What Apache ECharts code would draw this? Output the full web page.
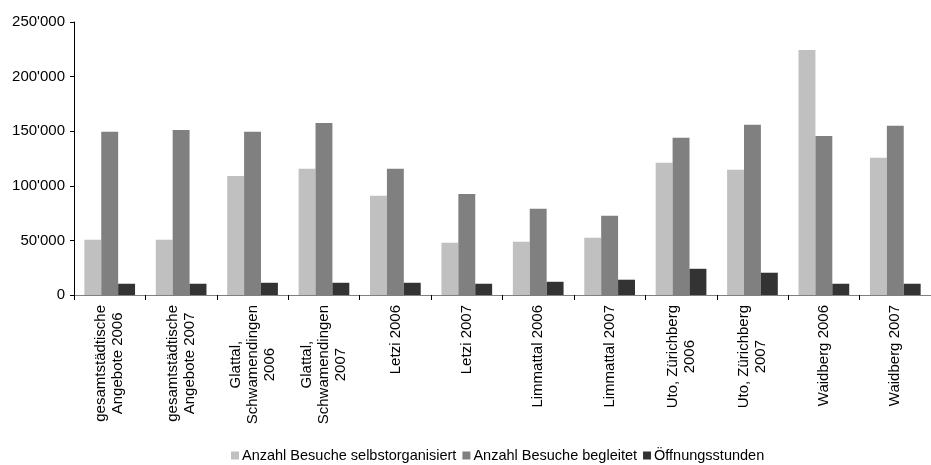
<!DOCTYPE html>
<html>
<head>
<meta charset="utf-8">
<script src="https://cdn.jsdelivr.net/npm/echarts@6/dist/echarts.min.js"></script>
<style>
  html, body { margin: 0; padding: 0; background: #fff; }
  #chart { width: 931px; height: 465px; }
</style>
</head>
<body>
<div id="chart"></div>
<script>
// Locations and years (line breaks as shown under the axis)
const categories = [
  'gesamtstädtische\nAngebote 2006',
  'gesamtstädtische\nAngebote 2007',
  'Glattal,\nSchwamendingen\n2006',
  'Glattal,\nSchwamendingen\n2007',
  'Letzi 2006',
  'Letzi 2007',
  'Limmattal 2006',
  'Limmattal 2007',
  'Uto, Zürichberg\n2006',
  'Uto, Zürichberg\n2007',
  'Waidberg 2006',
  'Waidberg 2007'
];

const seriesNames = [
  'Anzahl Besuche selbstorganisiert',
  'Anzahl Besuche begleitet',
  'Öffnungsstunden'
];

const selbstorganisiert = [50500, 50500, 109000, 115500, 90800, 47800, 48700, 52400, 121000, 114600, 224400, 125600];
const begleitet = [149400, 151200, 149400, 157600, 115500, 92600, 78900, 72500, 143900, 155800, 145700, 154900];
const oeffnungsstunden = [10300, 10300, 11200, 11200, 11200, 10300, 12100, 14000, 24000, 20400, 10300, 10300];

const yTicks = { min: 0, max: 250000, interval: 50000 };

const colors = ['#c0c0c0', '#808080', '#333333'];
const fontFamily = '"Liberation Sans", Arial, sans-serif';
const labelFontSize = 15;

// 250000 -> 250'000
function swissNumber(v) {
  return String(v).replace(/\B(?=(\d{3})+(?!\d))/g, "'");
}

// Every line of a category label is a rich token centred within the label block
function centreLines(text) {
  return text.split('\n').map(function (l) { return '{c|' + l + '}'; }).join('\n');
}

const chart = echarts.init(document.getElementById('chart'), null, { renderer: 'canvas' });

const values = [selbstorganisiert, begleitet, oeffnungsstunden];

chart.setOption({
  animation: false,
  backgroundColor: '#ffffff',
  textStyle: { fontFamily: fontFamily, color: '#000' },
  color: colors,
  grid: { left: 74, top: 22, width: 868, height: 273, containLabel: false },
  legend: {
    data: seriesNames,
    bottom: -3,
    left: 226,
    icon: 'rect',
    itemWidth: 8,
    itemHeight: 8,
    itemGap: 6,
    textStyle: { fontFamily: fontFamily, fontSize: 14.5, color: '#000', padding: [0, 0, 0, -2] }
  },
  xAxis: {
    type: 'category',
    data: categories,
    axisLine: { lineStyle: { color: '#808080', width: 1 } },
    axisTick: { show: true, alignWithLabel: false, length: 5, lineStyle: { color: '#000' } },
    axisLabel: {
      rotate: 90,
      interval: 0,
      margin: 10,
      fontSize: labelFontSize,
      lineHeight: 17,
      fontFamily: fontFamily,
      color: '#000',
      formatter: centreLines,
      rich: {
        c: { align: 'center', fontSize: labelFontSize, lineHeight: 17, fontFamily: fontFamily, color: '#000' }
      }
    }
  },
  yAxis: {
    type: 'value',
    min: yTicks.min,
    max: yTicks.max,
    interval: yTicks.interval,
    splitLine: { show: false },
    axisLine: { show: true, lineStyle: { color: '#000', width: 1 } },
    axisTick: { show: true, length: 4, lineStyle: { color: '#000' } },
    axisLabel: {
      margin: 9,
      fontSize: 15,
      fontFamily: fontFamily,
      color: '#000',
      formatter: swissNumber
    }
  },
  series: seriesNames.map(function (name, i) {
    return {
      name: name,
      type: 'bar',
      data: values[i],
      barGap: '0%',
      barCategoryGap: '29%',
      itemStyle: { color: colors[i] }
    };
  })
});
</script>
</body>
</html>
